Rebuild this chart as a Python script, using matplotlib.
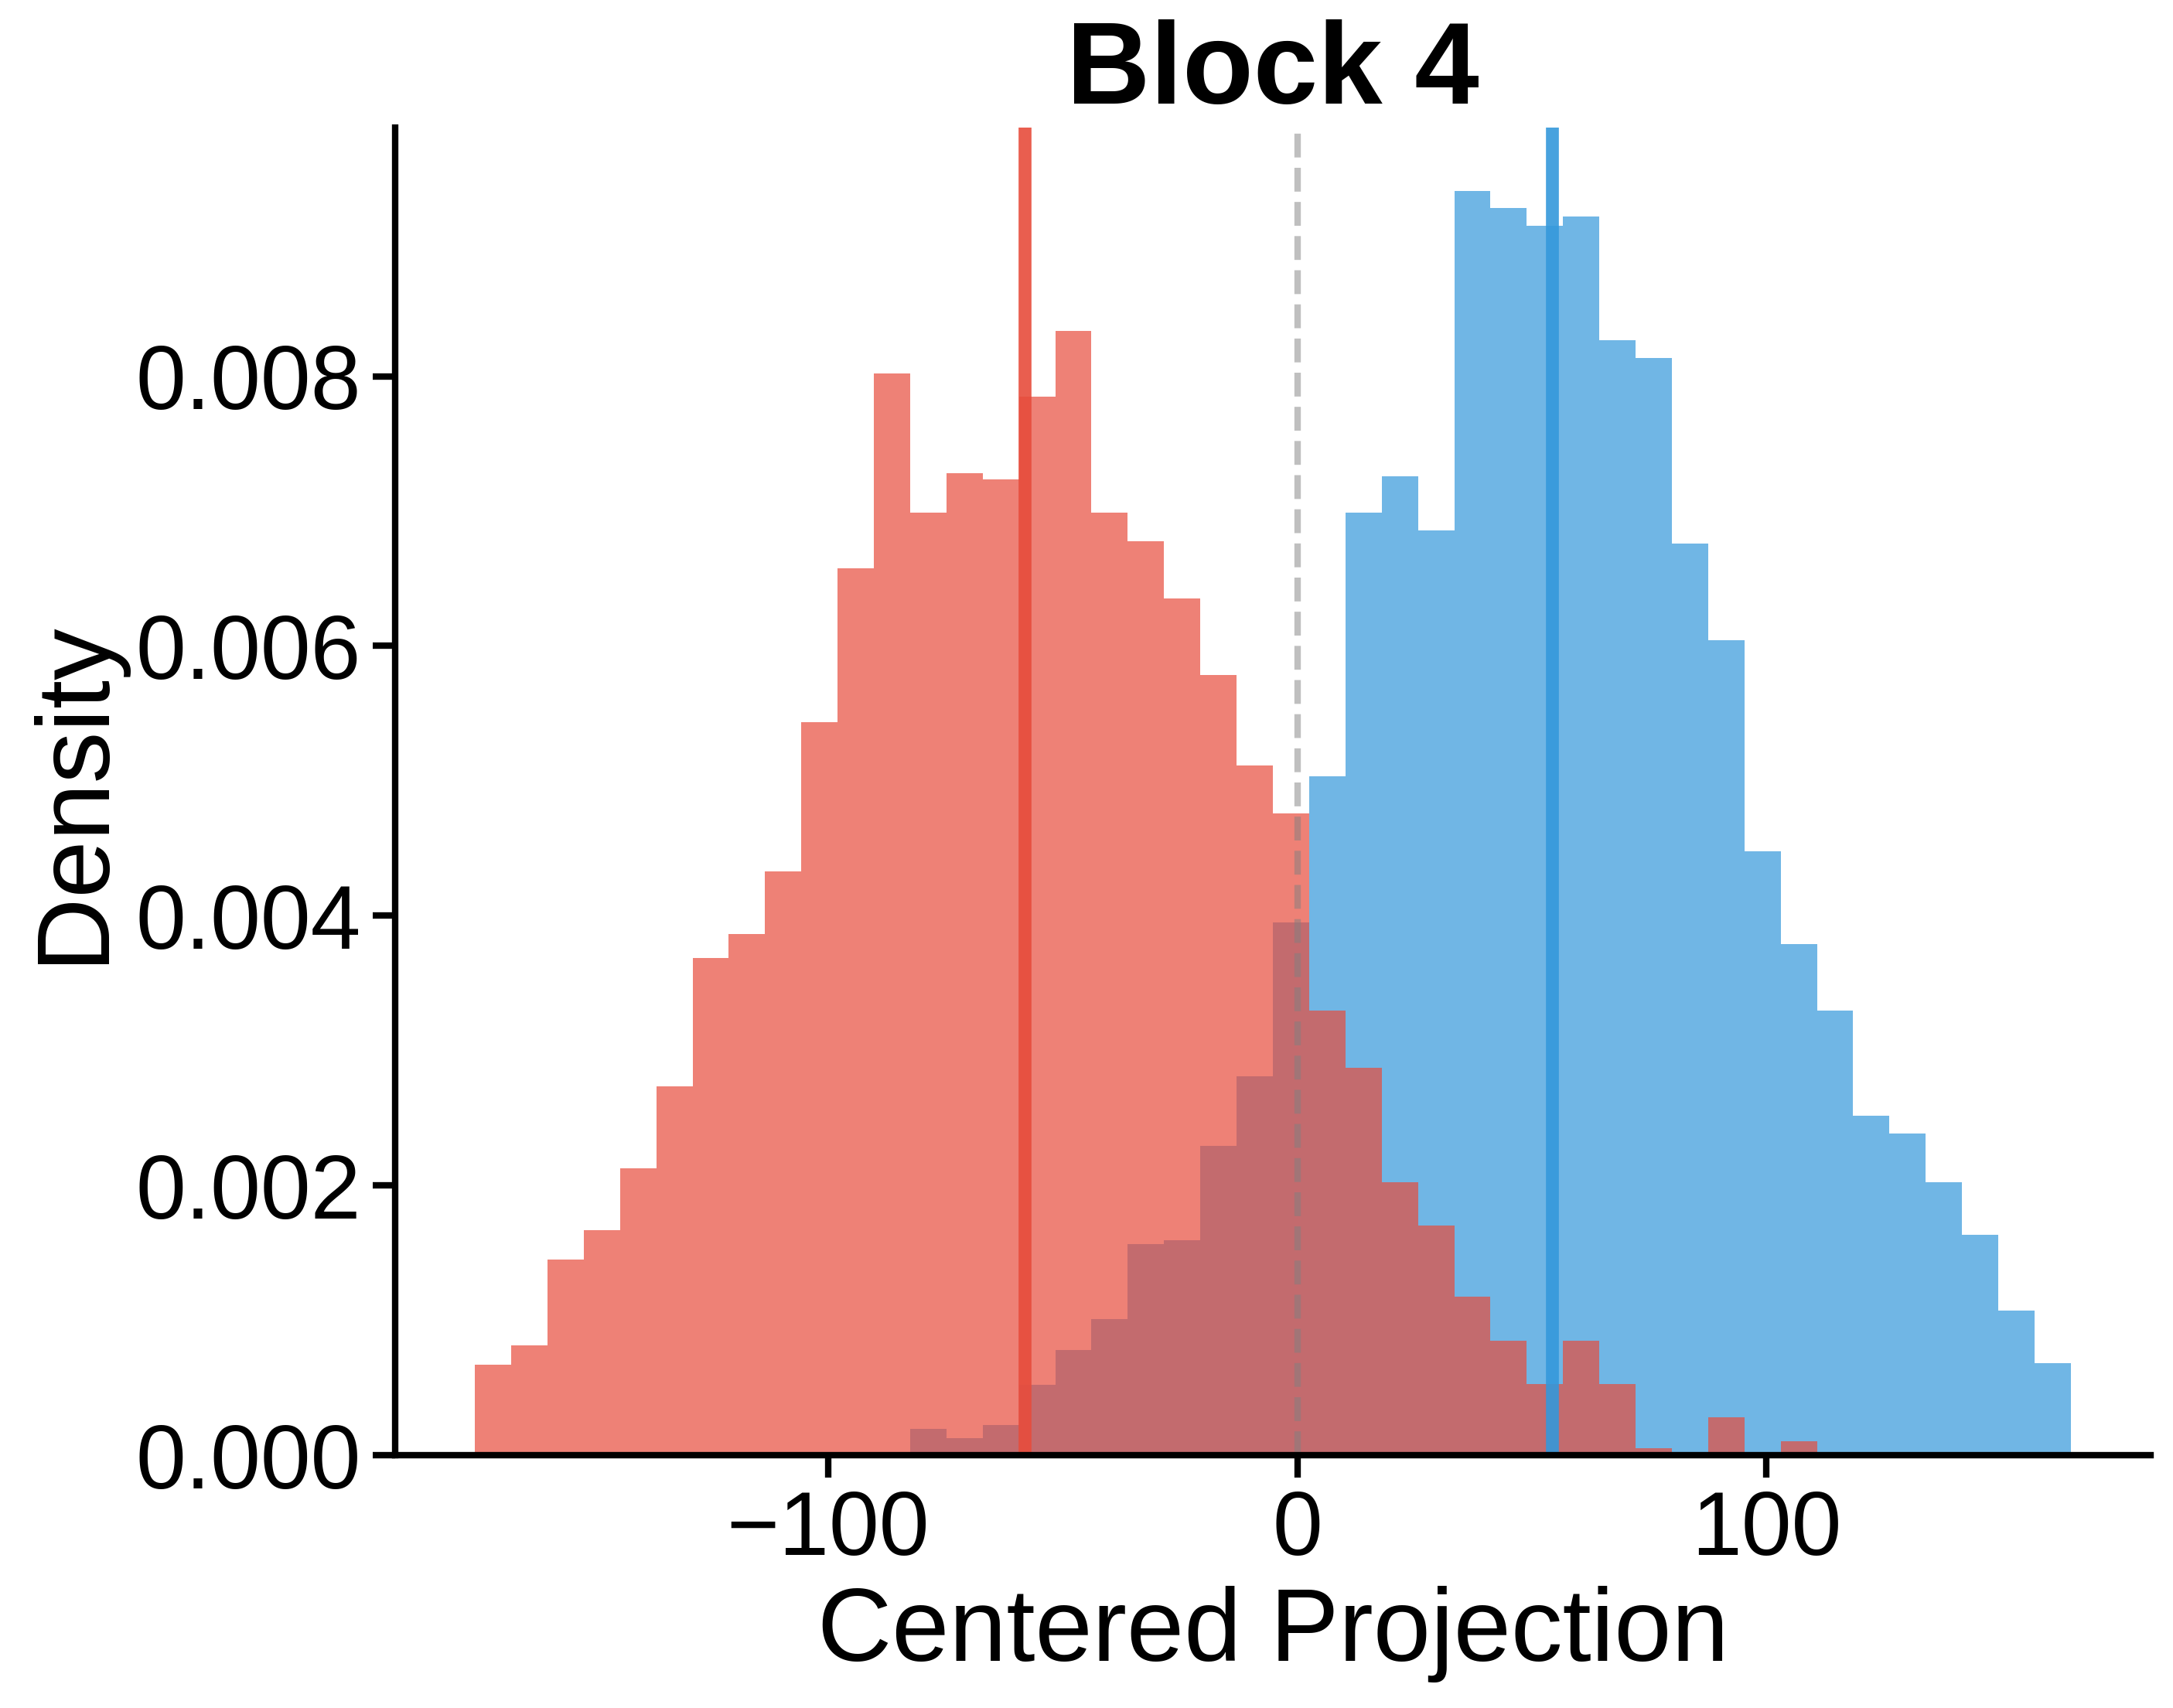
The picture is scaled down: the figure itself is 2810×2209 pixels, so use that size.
import numpy as np
import matplotlib
matplotlib.use("Agg")
import matplotlib.pyplot as plt

plt.rcParams['font.family'] = ['Liberation Sans', 'DejaVu Sans']
plt.rcParams['axes.unicode_minus'] = True

# ---- data ----
title = "Block 4"
xlabel = "Centered Projection"
ylabel = "Density"

bin_min = -175.3
bin_max = 164.9
n_bins = 44

red_density = [
    0.000672, 0.000816, 0.001453, 0.001666, 0.002125, 0.002734, 0.003688, 0.003866,
    0.004330, 0.005437, 0.006577, 0.008022, 0.006990, 0.007280, 0.007236, 0.007848,
    0.008338, 0.006990, 0.006779, 0.006350, 0.005782, 0.005114, 0.004758, 0.003298,
    0.002872, 0.002021, 0.001703, 0.001173, 0.000850, 0.000526, 0.000850, 0.000526,
    0.000052, 0.000013, 0.000283, 0.000013, 0.000102, 0.000013, 0.0, 0.000013,
    0.0, 0.0, 0.000013, 0.0,
]
blue_density = [
    0.0, 0.0, 0.0, 0.0, 0.0, 0.0, 0.000013, 0.0,
    0.0, 0.000013, 0.0, 0.000013, 0.000193, 0.000125, 0.000225, 0.000520,
    0.000782, 0.001010, 0.001567, 0.001595, 0.002291, 0.002809, 0.003950, 0.005035,
    0.006990, 0.007257, 0.006859, 0.009375, 0.009250, 0.009113, 0.009182, 0.008266,
    0.008136, 0.006760, 0.006043, 0.004475, 0.003790, 0.003296, 0.002516, 0.002384,
    0.002021, 0.001633, 0.001072, 0.000684,
]
red_mean = -58.1
blue_mean = 54.3
ref_line = 0.0

yticks = [0.000, 0.002, 0.004, 0.006, 0.008]
xticks = [-100, 0, 100]

red_color = '#e74c3c'
blue_color = '#3498db'

# ---- figure ----
fig = plt.figure(figsize=(2810 / 300, 2209 / 300), dpi=300)
ax = fig.add_axes([0.18185, 0.14803, 0.80783, 0.77727])

edges = np.linspace(bin_min, bin_max, n_bins + 1)
centers = 0.5 * (edges[:-1] + edges[1:])

ax.hist(centers, bins=edges, weights=blue_density, color=blue_color, alpha=0.7)
ax.hist(centers, bins=edges, weights=red_density, color=red_color, alpha=0.7)

ax.axvline(ref_line, color='gray', linestyle='--', linewidth=2, alpha=0.5)
ax.axvline(red_mean, color=red_color, linewidth=4, alpha=0.9)
ax.axvline(blue_mean, color=blue_color, linewidth=4, alpha=0.9)

ax.set_xticks(xticks)
ax.set_yticks(yticks)
ax.set_yticklabels([f"{v:.3f}" for v in yticks])

ax.set_title(title, fontsize=36, fontweight='bold')
ax.set_xlabel(xlabel, fontsize=32)
ax.set_ylabel(ylabel, fontsize=32)

ax.tick_params(axis='both', labelsize=28, length=7, width=2)
for s in ['top', 'right']:
    ax.spines[s].set_visible(False)
for s in ['left', 'bottom']:
    ax.spines[s].set_linewidth(2)

fig.savefig("out.png", dpi=300)
